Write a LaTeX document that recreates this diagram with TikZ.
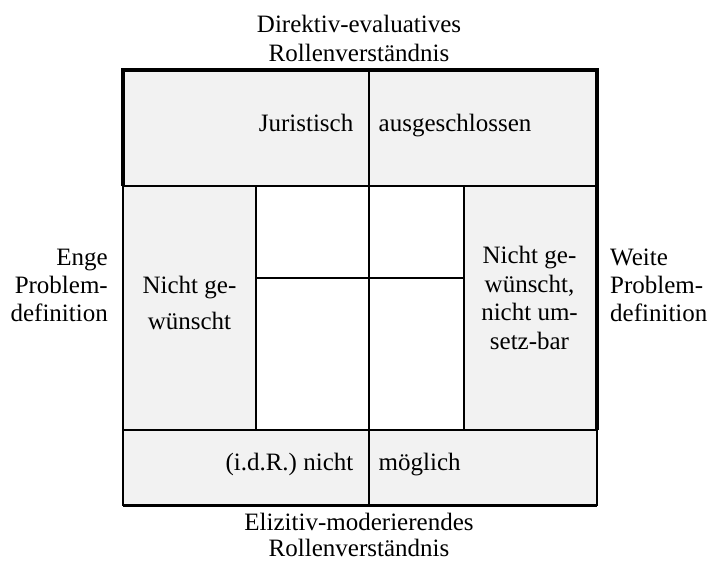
\documentclass[tikz,border=0pt]{standalone}
\usepackage{fontspec}
\setmainfont{Liberation Serif}
\definecolor{cellgray}{RGB}{242,242,242}
\begin{document}
\begin{tikzpicture}[x=1pt,y=-1pt,
  thinrule/.style={line width=1.6pt},
  thickrule/.style={line width=3.6pt},
  lbl/.style={inner sep=0pt, font=\fontsize{25}{28.5}\selectfont},
  cellfill/.style={fill=cellgray}]
\useasboundingbox (0,0) rectangle (712,561);

% grid corners
\coordinate (tl) at (123,70);
\coordinate (tr) at (597,70);
\coordinate (bl) at (123,505.5);
\coordinate (br) at (597,505.5);

% shaded outer ring
\fill[cellfill] (123,70) rectangle (597,186);
\fill[cellfill] (123,186) rectangle (256,430);
\fill[cellfill] (464,186) rectangle (597,430);
\fill[cellfill] (123,430) rectangle (597,505.5);

% thin dividing lines
\draw[thinrule] (123,186) -- (597,186);
\draw[thinrule] (123,430) -- (597,430);
\draw[thinrule] (256,186) -- (256,430);
\draw[thinrule] (464,186) -- (464,430);
\draw[thinrule] (369,70) -- (369,505.5);
\draw[thinrule] (256,278) -- (464,278);
\draw[thinrule] (123,186) -- (bl);
\draw[thinrule] (597,430) -- (br);

% heavy outer edges
\draw[thickrule] (123,186) -- (tl) -- (tr) -- (597,430);
\draw[thickrule] (bl) -- (br);

% axis labels (anchor base = baseline of the last line)
\node[lbl, anchor=base, align=center] (top) at (359,61.5) {Direktiv-evaluatives\\Rollenverständnis};
\node[lbl, anchor=base, align=center, font=\fontsize{25}{25.5}\selectfont] (bottom) at (359,556) {Elizitiv-moderierendes\\Rollenverständnis};
\node[lbl, anchor=base east, align=right] (left) at (108,322) {Enge\\Problem-\\definition};
\node[lbl, anchor=base west, align=left] (right) at (610,322) {Weite\\Problem-\\definition};

% cell texts
\node[lbl, anchor=base east] (jur) at (353.5,131.5) {Juristisch};
\node[lbl, anchor=base west] (aus) at (378.5,131.5) {ausgeschlossen};
\node[lbl, anchor=base east] (idr) at (353.5,470) {(i.d.R.) nicht};
\node[lbl, anchor=base west] (moe) at (378.5,470) {möglich};
\node[lbl, anchor=base, align=center, font=\fontsize{25}{36}\selectfont] (ngl) at (189.5,330) {Nicht ge-\\wünscht};
\node[lbl, anchor=base, align=center] (ngr) at (529.5,349) {Nicht ge-\\wünscht,\\nicht um-\\setz-bar};
\end{tikzpicture}
\end{document}
